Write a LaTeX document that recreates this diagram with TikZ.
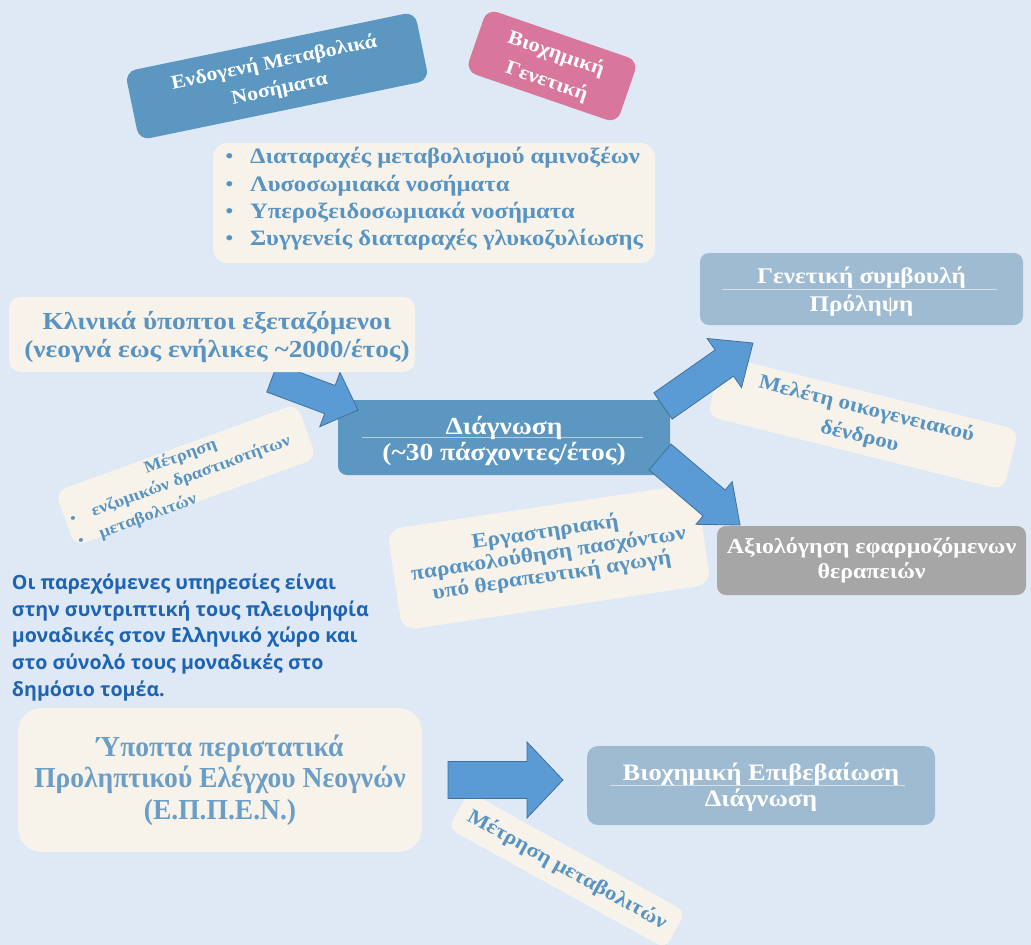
\documentclass[tikz,border=0pt]{standalone}
\usepackage{fontspec}
\setmainfont[FakeStretch=1.12]{Liberation Serif}
\newfontfamily\parafont{Open Sans}
\newfontfamily\condfont[FakeStretch=0.95]{Liberation Serif}
\usetikzlibrary{calc}
\definecolor{bgc}{RGB}{222,233,245}
\definecolor{creamc}{RGB}{247,243,234}
\definecolor{creamtxt}{RGB}{88,148,195}
\definecolor{darkc}{RGB}{91,151,192}
\definecolor{pinkc}{RGB}{216,118,155}
\definecolor{lightc}{RGB}{158,187,210}
\definecolor{grayc}{RGB}{166,166,166}
\definecolor{arrowc}{RGB}{91,155,213}
\definecolor{arrowd}{RGB}{65,113,156}
\definecolor{parac}{RGB}{30,100,180}
\definecolor{susptxt}{RGB}{106,158,198}
\newcommand{\topstrut}[1]{\rule{0pt}{#1pt}}
\newcommand{\botstrut}[1]{\rule[-#1pt]{0pt}{1pt}}
\tikzset{
  every node/.style={inner sep=0pt, outer sep=0pt},
  box/.style={rounded corners=11pt, align=center},
  creambox/.style={box, fill=creamc, text=creamtxt},
  darkbox/.style={box, fill=darkc, text=white},
  lightbox/.style={box, fill=lightc, text=white},
  graybox/.style={box, fill=grayc, text=white},
  pinkbox/.style={box, fill=pinkc, text=white},
  sepline/.style={draw=white, draw opacity=0.55, line width=0.7pt},
  withsep/.style 2 args={path picture={\draw[sepline] ($(path picture bounding box.west)+(#1,0)$) -- ($(path picture bounding box.east)+(-#2,0)$);}},
  arrowst/.style={fill=arrowc, draw=arrowd, line width=0.8pt, line join=miter},
  txt/.style={font=\bfseries\fontsize{#1}{#1}\selectfont},
}
\newcommand{\blockarrow}[6]{%
  \coordinate (#6h) at ($(#2)!#5!(#1)$);
  \draw[arrowst] ($(#1)!#3!90:(#2)$) -- ($(#6h)!#3!90:(#2)$) -- ($(#6h)!#4!90:(#2)$) -- (#2)
    -- ($(#6h)!#4!-90:(#2)$) -- ($(#6h)!#3!-90:(#2)$) -- ($(#1)!#3!-90:(#2)$) -- cycle;
}
\begin{document}
\begin{tikzpicture}[x=1pt,y=-1pt]
\fill[bgc] (0,0) rectangle (1031,945);
\useasboundingbox (0,0) rectangle (1031,945);

% top boxes
\node[darkbox, rotate=11.7, minimum width=296pt, minimum height=70pt,
  font=\bfseries\fontsize{19.5}{27}\selectfont] (endo) at (277,76)
  {Ενδογενή Μεταβολικά\\Νοσήματα};
\node[pinkbox, rotate=-19, minimum width=160pt, minimum height=66pt,
  font=\bfseries\fontsize{20}{29}\selectfont] (biogen) at (552,66)
  {\topstrut{19}Βιοχημική\\Γενετική};

\node[creambox, rounded corners=14pt, minimum width=442pt, minimum height=120pt,
  align=left, font=\bfseries\fontsize{22}{27.3}\selectfont] (list) at (434,203)
  {\makebox[25pt][l]{\mdseries•}Διαταραχές μεταβολισμού αμινοξέων\\
   \makebox[25pt][l]{\mdseries•}Λυσοσωμιακά νοσήματα\\
   \makebox[25pt][l]{\mdseries•}Υπεροξειδοσωμιακά νοσήματα\\
   \makebox[25pt][l]{\mdseries•}Συγγενείς διαταραχές γλυκοζυλίωσης\botstrut{13}};

% middle
\node[darkbox, rounded corners=9pt, minimum width=332pt, minimum height=75pt, withsep={24}{27},
  font=\bfseries\fontsize{24.5}{25}\selectfont] (diag) at (504,437.5)
  {\topstrut{26}Διάγνωση\\[1pt](\textasciitilde30 πάσχοντες/έτος)};
\node[lightbox, rounded corners=9pt, minimum width=323pt, minimum height=72pt, withsep={22}{26},
  font=\bfseries\fontsize{22.4}{28}\selectfont] (gen) at (861.5,289)
  {\topstrut{22}Γενετική συμβουλή\\Πρόληψη};
\node[creambox, rotate=-14, minimum width=305pt, minimum height=62pt,
  font=\bfseries\fontsize{20.6}{28}\selectfont] (melet) at (863,423)
  {Μελέτη οικογενειακού\\δένδρου};
\node[graybox, rounded corners=9pt, minimum width=309pt, minimum height=69pt,
  font=\bfseries\fontsize{21.4}{25}\selectfont] (axiol) at (871.5,560.5)
  {Αξιολόγηση εφαρμοζόμενων\\θεραπειών};
\node[creambox, rotate=8.5, minimum width=312pt, minimum height=102pt, rounded corners=14pt,
  font=\bfseries\fontsize{20.9}{22}\selectfont] (ergast) at (549,557)
  {Εργαστηριακή\\παρακολούθηση πασχόντων\\υπό θεραπευτική αγωγή\botstrut{10}};

\begin{scope}[shift={(186,475)}, rotate=20, transform shape]
  \node[creambox, minimum width=257pt, minimum height=58pt] (metr) at (0,0) {};
  \node[txt=16.7, text=creamtxt] (metrA) at (1,-19) {Μέτρηση};
  \node[txt=16.7, text=creamtxt, anchor=west] (metrB) at (-101,3) {ενζυμικών δραστικοτήτων};
  \node[txt=16.7, text=creamtxt, anchor=west] (metrC) at (-101,26) {μεταβολιτών};
  \node[font=\fontsize{16}{16}\selectfont, text=creamtxt] (metrD) at (-121,4) {•};
  \node[font=\fontsize{16}{16}\selectfont, text=creamtxt] (metrE) at (-121,27) {•};
\end{scope}

% paragraph
\node[anchor=west, align=left, text=parac,
  font=\parafont\bfseries\fontsize{19.6}{26.7}\selectfont] (para) at (12,637.5)
  {Οι παρεχόμενες υπηρεσίες είναι\\
   στην συντριπτική τους πλειοψηφία\\
   μοναδικές στον Ελληνικό χώρο και\\
   στο σύνολό τους μοναδικές στο\\
   δημόσιο τομέα.};

% bottom
\node[creambox, rounded corners=24pt, minimum width=404pt, minimum height=144pt, text=susptxt,
  font=\condfont\bfseries\fontsize{29}{31.5}\selectfont] (susp) at (220,780)
  {Ύποπτα περιστατικά\\Προληπτικού Ελέγχου Νεογνών\\(Ε.Π.Π.Ε.Ν.)};
\node[lightbox, rounded corners=11pt, minimum width=348pt, minimum height=79pt, withsep={23}{30},
  font=\bfseries\fontsize{23.6}{25}\selectfont] (bioe) at (761,785.5)
  {\topstrut{22}Βιοχημική Επιβεβαίωση\\[1pt]Διάγνωση};
\node[creambox, rotate=-29, minimum width=248pt, minimum height=42pt, rounded corners=9pt,
  font=\bfseries\fontsize{20.5}{20}\selectfont] (metr2) at (567,870)
  {Μέτρηση μεταβολιτών};

% arrows
\coordinate (a1s) at ($(diag.west)+(-66,-59.5)$);
\coordinate (a1e) at ($(diag.west)+(20,-27.5)$);
\coordinate (a2s) at ($(diag.east)+(-7,-31.5)$);
\coordinate (a2e) at ($(gen.south)+(-108.5,18)$);
\coordinate (a3s) at ($(diag.east)+(-10,19.5)$);
\coordinate (a3e) at ($(axiol.north west)+(23,-1)$);
\coordinate (a4s) at ($(susp.east)+(26,0)$);
\coordinate (a4e) at ($(bioe.west)+(-24,-5.5)$);
\blockarrow{a1s}{a1e}{15pt}{29pt}{30pt}{arA}
\blockarrow{a2s}{a2e}{16pt}{30pt}{35pt}{arB}
\blockarrow{a3s}{a3e}{17pt}{28pt}{34pt}{arC}
\blockarrow{a4s}{a4e}{18.5pt}{38pt}{36pt}{arD}

% top-most box covering the first arrow's tail
\node[creambox, rounded corners=12pt, minimum width=406pt, minimum height=75pt,
  font=\bfseries\fontsize{24.4}{28}\selectfont] (clin) at (212,334.5)
  {\topstrut{24}\hspace*{10pt}Κλινικά ύποπτοι εξεταζόμενοι\\\hspace*{10pt}(νεογνά εως ενήλικες \textasciitilde2000/έτος)};
\end{tikzpicture}
\end{document}
